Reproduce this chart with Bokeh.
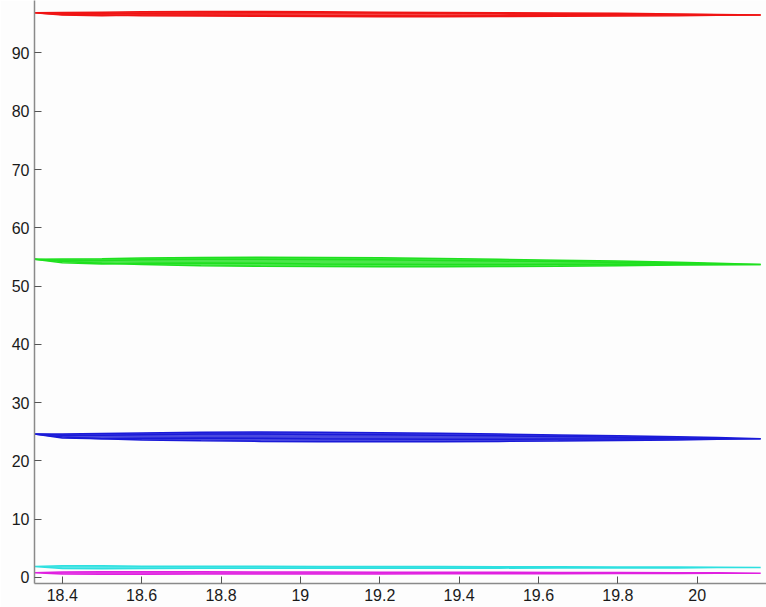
from bokeh.plotting import figure
from bokeh.models import Range1d, FixedTicker
from bokeh.embed import file_html
from bokeh.resources import INLINE

# x sample positions along each loop
x_knots = [18.33, 18.40, 18.50, 18.60, 18.75, 18.90, 19.05, 19.20, 19.35, 19.50, 19.65, 19.80, 19.95, 20.05, 20.16]

# red band (two loops: outward upper path, return lower path)
red_up_a = [96.9, 96.95, 97.0, 97.05, 97.1, 97.1, 97.05, 97.0, 96.95, 96.9, 96.85, 96.8, 96.7, 96.6, 96.5]
red_lo_a = [96.9, 96.6, 96.5, 96.4, 96.35, 96.3, 96.25, 96.2, 96.2, 96.25, 96.3, 96.35, 96.4, 96.45, 96.5]
red_up_b = [96.9, 96.8, 96.75, 96.8, 96.85, 96.9, 96.9, 96.85, 96.8, 96.75, 96.7, 96.65, 96.6, 96.55, 96.5]
red_lo_b = [96.9, 96.5, 96.4, 96.5, 96.5, 96.45, 96.4, 96.4, 96.35, 96.4, 96.45, 96.5, 96.5, 96.5, 96.5]

# green band
green_up_a = [54.6, 54.65, 54.7, 54.8, 54.9, 54.95, 54.9, 54.85, 54.75, 54.6, 54.45, 54.3, 54.1, 53.9, 53.7]
green_lo_a = [54.6, 54.2, 53.9, 53.7, 53.5, 53.4, 53.35, 53.3, 53.3, 53.35, 53.4, 53.5, 53.6, 53.65, 53.7]
green_up_b = [54.6, 54.4, 54.4, 54.5, 54.6, 54.6, 54.55, 54.5, 54.4, 54.3, 54.2, 54.05, 53.95, 53.8, 53.7]
green_lo_b = [54.6, 54.0, 53.8, 53.9, 53.95, 53.9, 53.8, 53.75, 53.7, 53.7, 53.75, 53.75, 53.7, 53.7, 53.7]

# blue band
blue_up_a = [24.6, 24.6, 24.7, 24.8, 24.9, 24.95, 24.9, 24.85, 24.75, 24.6, 24.45, 24.3, 24.15, 24.0, 23.8]
blue_lo_a = [24.6, 24.1, 23.8, 23.6, 23.45, 23.35, 23.3, 23.3, 23.3, 23.35, 23.4, 23.5, 23.6, 23.7, 23.8]
blue_up_b = [24.6, 24.4, 24.4, 24.5, 24.6, 24.6, 24.55, 24.5, 24.4, 24.3, 24.2, 24.05, 23.95, 23.85, 23.8]
blue_lo_b = [24.6, 23.95, 23.8, 23.9, 23.95, 23.9, 23.8, 23.75, 23.7, 23.7, 23.75, 23.75, 23.75, 23.8, 23.8]

# cyan band
cyan_up = [1.9, 2.0, 2.0, 1.95, 1.95, 1.95, 1.9, 1.9, 1.9, 1.85, 1.85, 1.8, 1.8, 1.75, 1.7]
cyan_lo = [1.9, 1.55, 1.5, 1.55, 1.6, 1.6, 1.6, 1.6, 1.6, 1.6, 1.65, 1.65, 1.65, 1.7, 1.7]

# magenta band
mag_up = [0.8, 0.95, 1.0, 1.0, 1.0, 0.95, 0.95, 0.9, 0.9, 0.9, 0.85, 0.85, 0.8, 0.8, 0.75]
mag_lo = [0.8, 0.6, 0.55, 0.55, 0.6, 0.6, 0.6, 0.6, 0.65, 0.65, 0.65, 0.7, 0.7, 0.75, 0.75]

x_ticks = [18.4, 18.6, 18.8, 19.0, 19.2, 19.4, 19.6, 19.8, 20.0]
x_tick_labels = ["18.4", "18.6", "18.8", "19", "19.2", "19.4", "19.6", "19.8", "20"]
y_ticks = [0, 10, 20, 30, 40, 50, 60, 70, 80, 90]

p = figure(width=766, height=607, output_backend="svg", toolbar_location=None,
           x_range=Range1d(18.330, 20.1746), y_range=Range1d(-1.03, 99.0),
           min_border_left=34, min_border_bottom=24, min_border_top=0, min_border_right=0)
p.background_fill_color = "#fdfdfd"
p.border_fill_color = "#fdfdfd"
p.outline_line_color = None
p.xgrid.visible = False
p.ygrid.visible = False

def loop(up, lo):
    return x_knots + x_knots[::-1], up + lo[::-1]

bands = [
    ("#f01414", [(red_up_a, red_lo_a), (red_up_b, red_lo_b)]),
    ("#1fe01f", [(green_up_a, green_lo_a), (green_up_b, green_lo_b)]),
    ("#1a1ad8", [(blue_up_a, blue_lo_a), (blue_up_b, blue_lo_b)]),
    ("#2ee0e0", [(cyan_up, cyan_lo)]),
    ("#e020e0", [(mag_up, mag_lo)]),
]
for color, loops in bands:
    for i, (up, lo) in enumerate(loops):
        xs, ys = loop(up, lo)
        if i == 0:
            p.patch(xs, ys, fill_color=color, fill_alpha=0.8, line_color=None)
        p.line(xs, ys, line_color=color, line_width=1.5)

for ax in (p.xaxis[0], p.yaxis[0]):
    ax.axis_line_color = "#8a8a8a"
    ax.axis_line_width = 1.5
    ax.major_tick_line_color = "#555555"
    ax.major_tick_in = 7
    ax.major_tick_out = 0
    ax.minor_tick_line_color = None
    ax.major_label_text_font = "Liberation Sans"
    ax.major_label_text_font_size = "16px"
    ax.major_label_text_color = "#1a1a1a"
    ax.major_label_standoff = 5

p.xaxis.ticker = FixedTicker(ticks=x_ticks)
p.xaxis.major_label_overrides = {t: l for t, l in zip(x_ticks, x_tick_labels)}
p.yaxis.ticker = FixedTicker(ticks=y_ticks)

open("out.html", "w").write(file_html(p, INLINE))
